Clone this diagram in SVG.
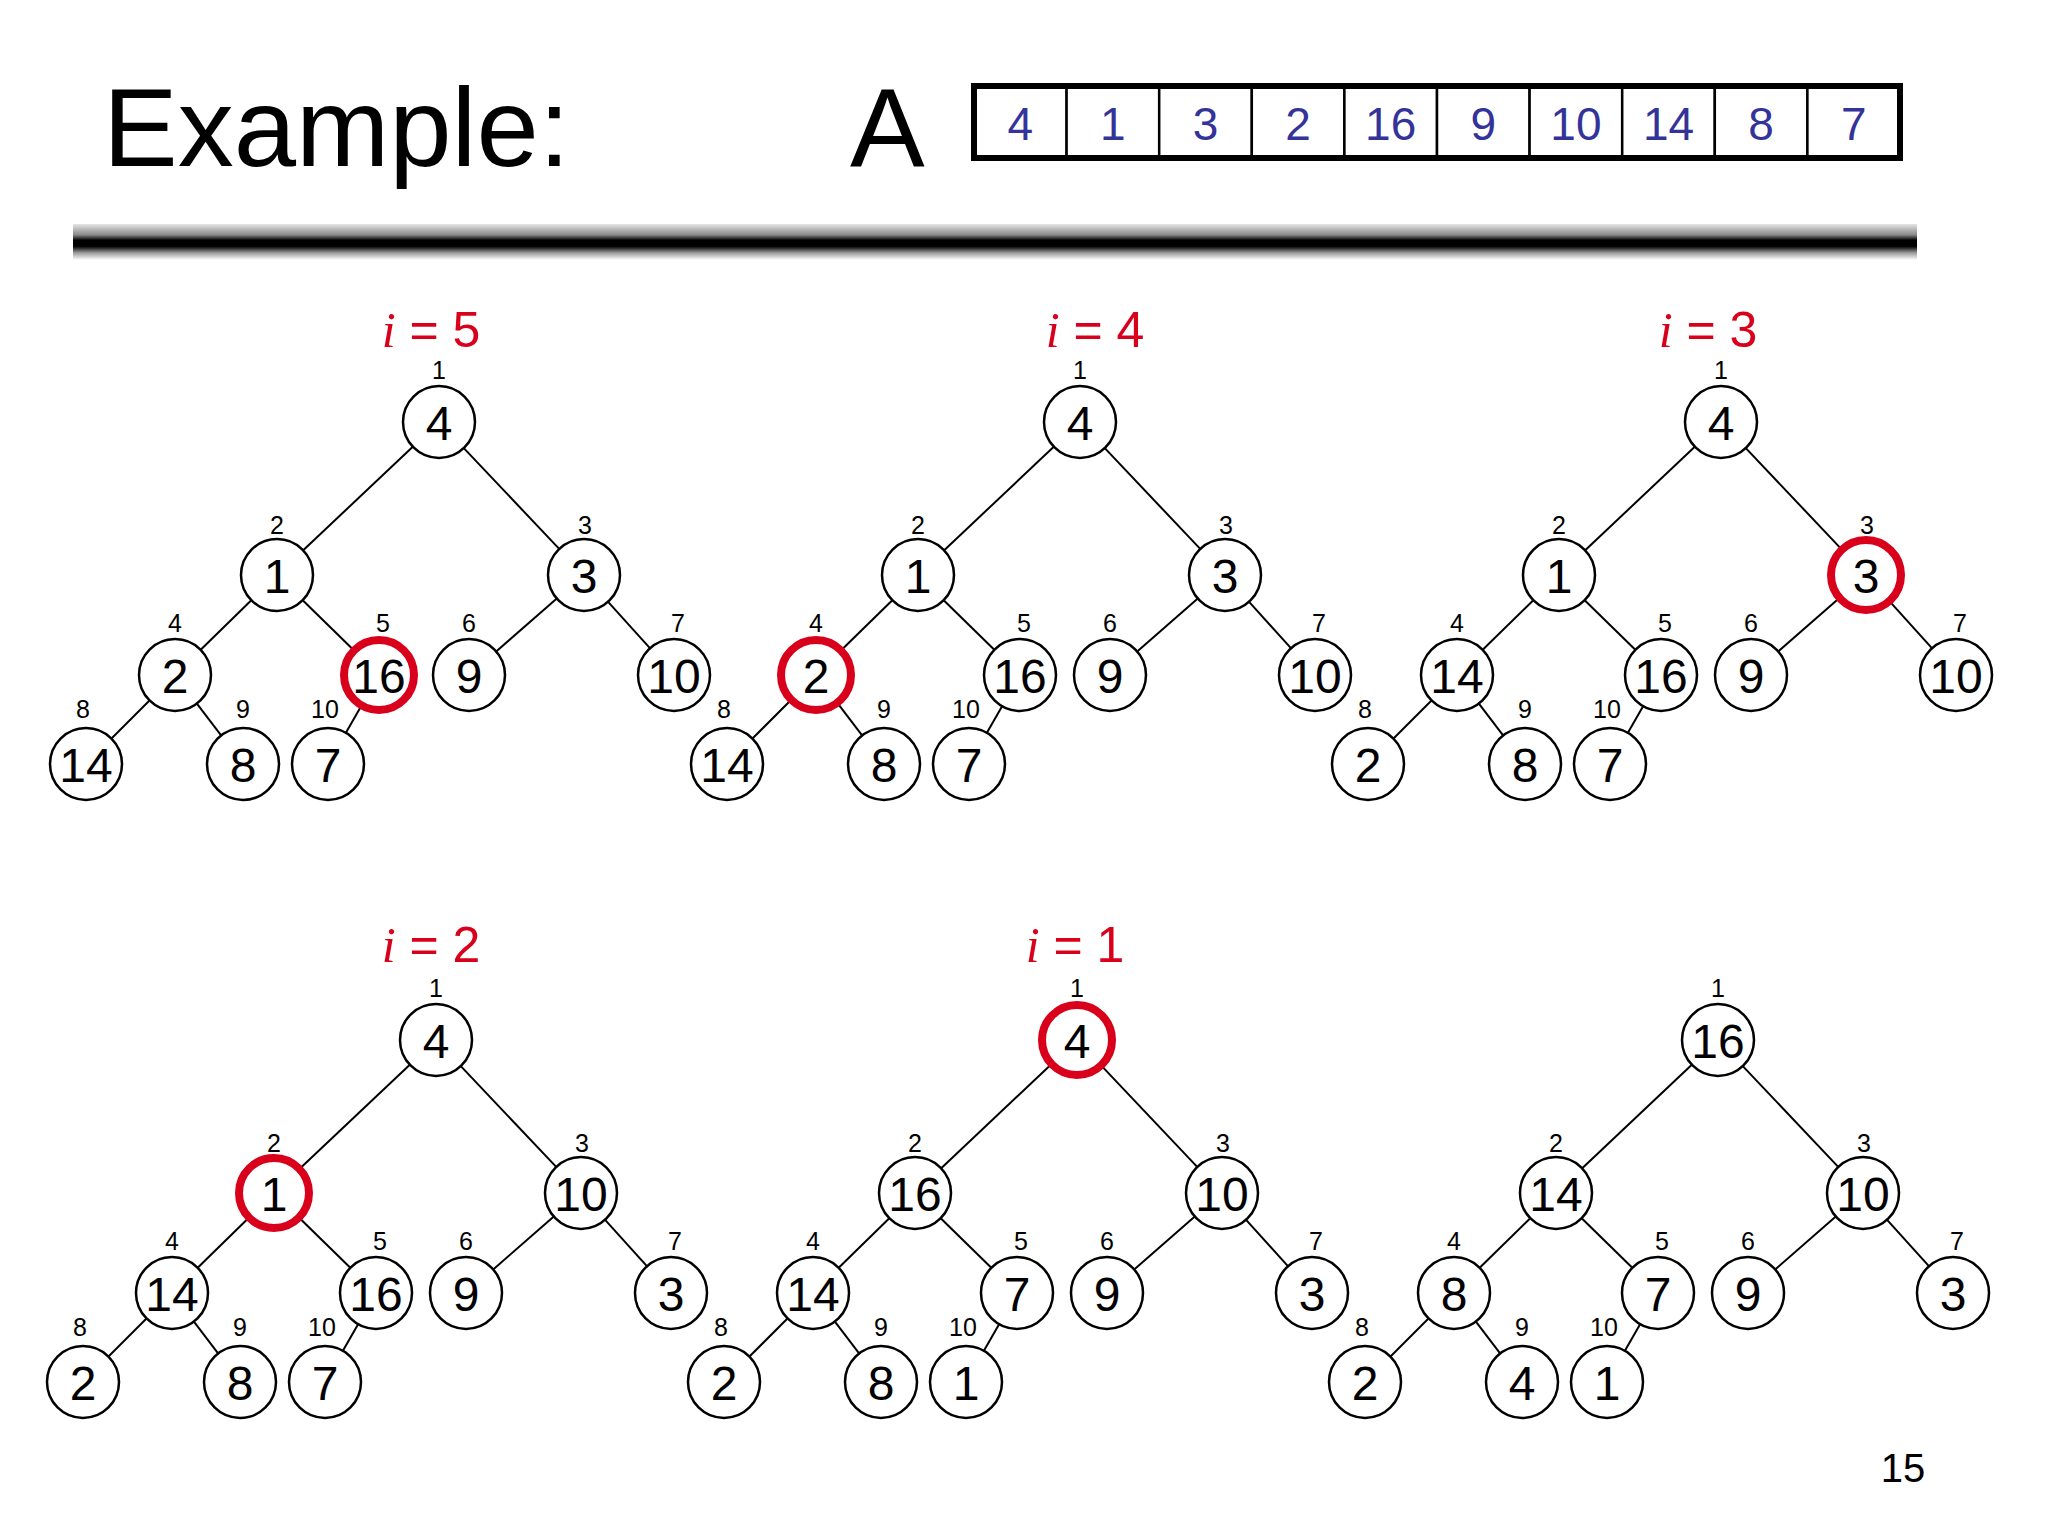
<svg xmlns="http://www.w3.org/2000/svg" width="2048" height="1536" viewBox="0 0 2048 1536">
<defs>
<linearGradient id="bar" x1="0" y1="0" x2="0" y2="1">
<stop offset="0" stop-color="#e6e6e6"/>
<stop offset="0.3" stop-color="#8a8a8a"/>
<stop offset="0.45" stop-color="#000"/>
<stop offset="0.62" stop-color="#000"/>
<stop offset="0.8" stop-color="#9a9a9a"/>
<stop offset="1" stop-color="#fff"/>
</linearGradient>
</defs>
<style>
text{font-family:"Liberation Sans",Arial,sans-serif}
.title{font-size:112px;fill:#000}
.cellnum{font-size:46px;fill:#333399;text-anchor:middle}
.cell{fill:#fff;stroke:#000;stroke-width:2.5}
.node circle{fill:#fff;stroke:#000;stroke-width:2.5}
.node.hl circle{stroke:#d9001b;stroke-width:8}
.val{font-size:48px;text-anchor:middle;fill:#000}
.idx{font-size:25px;text-anchor:middle;fill:#000}
.lbl{font-size:50px;fill:#d9001b;text-anchor:middle}
.it{font-family:"Liberation Serif","Times New Roman",serif;font-style:italic}
#connectors line{stroke:#000;stroke-width:2}
</style>
<rect width="2048" height="1536" fill="#fff"/>
<g id="header">
<text class="title" x="103" y="166">Example:</text>
<text class="title" x="850" y="166">A</text>
<g id="array">
<rect class="cell" x="974" y="86" width="92.6" height="72"/>
<rect class="cell" x="1066.6" y="86" width="92.6" height="72"/>
<rect class="cell" x="1159.2" y="86" width="92.6" height="72"/>
<rect class="cell" x="1251.8" y="86" width="92.6" height="72"/>
<rect class="cell" x="1344.4" y="86" width="92.6" height="72"/>
<rect class="cell" x="1437" y="86" width="92.6" height="72"/>
<rect class="cell" x="1529.6" y="86" width="92.6" height="72"/>
<rect class="cell" x="1622.2" y="86" width="92.6" height="72"/>
<rect class="cell" x="1714.8" y="86" width="92.6" height="72"/>
<rect class="cell" x="1807.4" y="86" width="92.6" height="72"/>
<rect x="974" y="86" width="926" height="72" fill="none" stroke="#000" stroke-width="6"/>
<text class="cellnum" x="1020.3" y="140">4</text>
<text class="cellnum" x="1112.9" y="140">1</text>
<text class="cellnum" x="1205.5" y="140">3</text>
<text class="cellnum" x="1298.1" y="140">2</text>
<text class="cellnum" x="1390.7" y="140">16</text>
<text class="cellnum" x="1483.3" y="140">9</text>
<text class="cellnum" x="1575.9" y="140">10</text>
<text class="cellnum" x="1668.5" y="140">14</text>
<text class="cellnum" x="1761.1" y="140">8</text>
<text class="cellnum" x="1853.7" y="140">7</text>
</g>
<rect x="73" y="224" width="1844" height="36" fill="url(#bar)"/>
</g>

<g id="labels">
<text class="lbl" x="431" y="347"><tspan class="it">i</tspan> = 5</text>
<text class="lbl" x="1095" y="347"><tspan class="it">i</tspan> = 4</text>
<text class="lbl" x="1708" y="347"><tspan class="it">i</tspan> = 3</text>
<text class="lbl" x="431" y="962"><tspan class="it">i</tspan> = 2</text>
<text class="lbl" x="1075" y="962"><tspan class="it">i</tspan> = 1</text>
</g>

<g id="connectors">
<g transform="translate(439,422)">
<line x1="-26.2" y1="24.7" x2="-135.8" y2="128.3"/><line x1="24.8" y1="26.1" x2="120.2" y2="126.9"/>
<line x1="-187.7" y1="178.2" x2="-238.3" y2="227.8"/><line x1="-136.3" y1="178.2" x2="-85.7" y2="227.8"/>
<line x1="117.8" y1="176.6" x2="57.2" y2="229.4"/><line x1="169.1" y1="179.8" x2="210.9" y2="226.2"/>
<line x1="-289.5" y1="278.5" x2="-327.5" y2="316.5"/><line x1="-242.1" y1="281.6" x2="-217.9" y2="313.4"/>
<line x1="-77.9" y1="284.2" x2="-93.1" y2="310.8"/>
</g>
<g transform="translate(1080,422)">
<line x1="-26.2" y1="24.7" x2="-135.8" y2="128.3"/><line x1="24.8" y1="26.1" x2="120.2" y2="126.9"/>
<line x1="-187.7" y1="178.2" x2="-238.3" y2="227.8"/><line x1="-136.3" y1="178.2" x2="-85.7" y2="227.8"/>
<line x1="117.8" y1="176.6" x2="57.2" y2="229.4"/><line x1="169.1" y1="179.8" x2="210.9" y2="226.2"/>
<line x1="-289.5" y1="278.5" x2="-327.5" y2="316.5"/><line x1="-242.1" y1="281.6" x2="-217.9" y2="313.4"/>
<line x1="-77.9" y1="284.2" x2="-93.1" y2="310.8"/>
</g>
<g transform="translate(1721,422)">
<line x1="-26.2" y1="24.7" x2="-135.8" y2="128.3"/><line x1="24.8" y1="26.1" x2="120.2" y2="126.9"/>
<line x1="-187.7" y1="178.2" x2="-238.3" y2="227.8"/><line x1="-136.3" y1="178.2" x2="-85.7" y2="227.8"/>
<line x1="117.8" y1="176.6" x2="57.2" y2="229.4"/><line x1="169.1" y1="179.8" x2="210.9" y2="226.2"/>
<line x1="-289.5" y1="278.5" x2="-327.5" y2="316.5"/><line x1="-242.1" y1="281.6" x2="-217.9" y2="313.4"/>
<line x1="-77.9" y1="284.2" x2="-93.1" y2="310.8"/>
</g>
<g transform="translate(436,1040)">
<line x1="-26.2" y1="24.7" x2="-135.8" y2="128.3"/><line x1="24.8" y1="26.1" x2="120.2" y2="126.9"/>
<line x1="-187.7" y1="178.2" x2="-238.3" y2="227.8"/><line x1="-136.3" y1="178.2" x2="-85.7" y2="227.8"/>
<line x1="117.8" y1="176.6" x2="57.2" y2="229.4"/><line x1="169.1" y1="179.8" x2="210.9" y2="226.2"/>
<line x1="-289.5" y1="278.5" x2="-327.5" y2="316.5"/><line x1="-242.1" y1="281.6" x2="-217.9" y2="313.4"/>
<line x1="-77.9" y1="284.2" x2="-93.1" y2="310.8"/>
</g>
<g transform="translate(1077,1040)">
<line x1="-26.2" y1="24.7" x2="-135.8" y2="128.3"/><line x1="24.8" y1="26.1" x2="120.2" y2="126.9"/>
<line x1="-187.7" y1="178.2" x2="-238.3" y2="227.8"/><line x1="-136.3" y1="178.2" x2="-85.7" y2="227.8"/>
<line x1="117.8" y1="176.6" x2="57.2" y2="229.4"/><line x1="169.1" y1="179.8" x2="210.9" y2="226.2"/>
<line x1="-289.5" y1="278.5" x2="-327.5" y2="316.5"/><line x1="-242.1" y1="281.6" x2="-217.9" y2="313.4"/>
<line x1="-77.9" y1="284.2" x2="-93.1" y2="310.8"/>
</g>
<g transform="translate(1718,1040)">
<line x1="-26.2" y1="24.7" x2="-135.8" y2="128.3"/><line x1="24.8" y1="26.1" x2="120.2" y2="126.9"/>
<line x1="-187.7" y1="178.2" x2="-238.3" y2="227.8"/><line x1="-136.3" y1="178.2" x2="-85.7" y2="227.8"/>
<line x1="117.8" y1="176.6" x2="57.2" y2="229.4"/><line x1="169.1" y1="179.8" x2="210.9" y2="226.2"/>
<line x1="-289.5" y1="278.5" x2="-327.5" y2="316.5"/><line x1="-242.1" y1="281.6" x2="-217.9" y2="313.4"/>
<line x1="-77.9" y1="284.2" x2="-93.1" y2="310.8"/>
</g>
</g>

<!-- Tree i=5 -->
<g id="t1" transform="translate(439,422)">
<g id="t1-n1" class="node"><circle cx="0" cy="0" r="36"/><text class="val" x="0" y="18">4</text><text class="idx" x="0" y="-43">1</text></g>
<g id="t1-n2" class="node"><circle cx="-162" cy="153" r="36"/><text class="val" x="-162" y="171">1</text><text class="idx" x="-162" y="112">2</text></g>
<g id="t1-n3" class="node"><circle cx="145" cy="153" r="36"/><text class="val" x="145" y="171">3</text><text class="idx" x="146" y="112">3</text></g>
<g id="t1-n4" class="node"><circle cx="-264" cy="253" r="36"/><text class="val" x="-264" y="271">2</text><text class="idx" x="-264" y="210">4</text></g>
<g id="t1-n5" class="node hl"><circle cx="-60" cy="253" r="35"/><text class="val" x="-60" y="271">16</text><text class="idx" x="-56" y="210">5</text></g>
<g id="t1-n6" class="node"><circle cx="30" cy="253" r="36"/><text class="val" x="30" y="271">9</text><text class="idx" x="30" y="210">6</text></g>
<g id="t1-n7" class="node"><circle cx="235" cy="253" r="36"/><text class="val" x="235" y="271">10</text><text class="idx" x="239" y="210">7</text></g>
<g id="t1-n8" class="node"><circle cx="-353" cy="342" r="36"/><text class="val" x="-353" y="360">14</text><text class="idx" x="-356" y="296">8</text></g>
<g id="t1-n9" class="node"><circle cx="-196" cy="342" r="36"/><text class="val" x="-196" y="360">8</text><text class="idx" x="-196" y="296">9</text></g>
<g id="t1-n10" class="node"><circle cx="-111" cy="342" r="36"/><text class="val" x="-111" y="360">7</text><text class="idx" x="-114" y="296">10</text></g>
</g>

<!-- Tree i=4 -->
<g id="t2" transform="translate(1080,422)">
<g id="t2-n1" class="node"><circle cx="0" cy="0" r="36"/><text class="val" x="0" y="18">4</text><text class="idx" x="0" y="-43">1</text></g>
<g id="t2-n2" class="node"><circle cx="-162" cy="153" r="36"/><text class="val" x="-162" y="171">1</text><text class="idx" x="-162" y="112">2</text></g>
<g id="t2-n3" class="node"><circle cx="145" cy="153" r="36"/><text class="val" x="145" y="171">3</text><text class="idx" x="146" y="112">3</text></g>
<g id="t2-n4" class="node hl"><circle cx="-264" cy="253" r="35"/><text class="val" x="-264" y="271">2</text><text class="idx" x="-264" y="210">4</text></g>
<g id="t2-n5" class="node"><circle cx="-60" cy="253" r="36"/><text class="val" x="-60" y="271">16</text><text class="idx" x="-56" y="210">5</text></g>
<g id="t2-n6" class="node"><circle cx="30" cy="253" r="36"/><text class="val" x="30" y="271">9</text><text class="idx" x="30" y="210">6</text></g>
<g id="t2-n7" class="node"><circle cx="235" cy="253" r="36"/><text class="val" x="235" y="271">10</text><text class="idx" x="239" y="210">7</text></g>
<g id="t2-n8" class="node"><circle cx="-353" cy="342" r="36"/><text class="val" x="-353" y="360">14</text><text class="idx" x="-356" y="296">8</text></g>
<g id="t2-n9" class="node"><circle cx="-196" cy="342" r="36"/><text class="val" x="-196" y="360">8</text><text class="idx" x="-196" y="296">9</text></g>
<g id="t2-n10" class="node"><circle cx="-111" cy="342" r="36"/><text class="val" x="-111" y="360">7</text><text class="idx" x="-114" y="296">10</text></g>
</g>

<!-- Tree i=3 -->
<g id="t3" transform="translate(1721,422)">
<g id="t3-n1" class="node"><circle cx="0" cy="0" r="36"/><text class="val" x="0" y="18">4</text><text class="idx" x="0" y="-43">1</text></g>
<g id="t3-n2" class="node"><circle cx="-162" cy="153" r="36"/><text class="val" x="-162" y="171">1</text><text class="idx" x="-162" y="112">2</text></g>
<g id="t3-n3" class="node hl"><circle cx="145" cy="153" r="35"/><text class="val" x="145" y="171">3</text><text class="idx" x="146" y="112">3</text></g>
<g id="t3-n4" class="node"><circle cx="-264" cy="253" r="36"/><text class="val" x="-264" y="271">14</text><text class="idx" x="-264" y="210">4</text></g>
<g id="t3-n5" class="node"><circle cx="-60" cy="253" r="36"/><text class="val" x="-60" y="271">16</text><text class="idx" x="-56" y="210">5</text></g>
<g id="t3-n6" class="node"><circle cx="30" cy="253" r="36"/><text class="val" x="30" y="271">9</text><text class="idx" x="30" y="210">6</text></g>
<g id="t3-n7" class="node"><circle cx="235" cy="253" r="36"/><text class="val" x="235" y="271">10</text><text class="idx" x="239" y="210">7</text></g>
<g id="t3-n8" class="node"><circle cx="-353" cy="342" r="36"/><text class="val" x="-353" y="360">2</text><text class="idx" x="-356" y="296">8</text></g>
<g id="t3-n9" class="node"><circle cx="-196" cy="342" r="36"/><text class="val" x="-196" y="360">8</text><text class="idx" x="-196" y="296">9</text></g>
<g id="t3-n10" class="node"><circle cx="-111" cy="342" r="36"/><text class="val" x="-111" y="360">7</text><text class="idx" x="-114" y="296">10</text></g>
</g>

<!-- Tree i=2 -->
<g id="t4" transform="translate(436,1040)">
<g id="t4-n1" class="node"><circle cx="0" cy="0" r="36"/><text class="val" x="0" y="18">4</text><text class="idx" x="0" y="-43">1</text></g>
<g id="t4-n2" class="node hl"><circle cx="-162" cy="153" r="35"/><text class="val" x="-162" y="171">1</text><text class="idx" x="-162" y="112">2</text></g>
<g id="t4-n3" class="node"><circle cx="145" cy="153" r="36"/><text class="val" x="145" y="171">10</text><text class="idx" x="146" y="112">3</text></g>
<g id="t4-n4" class="node"><circle cx="-264" cy="253" r="36"/><text class="val" x="-264" y="271">14</text><text class="idx" x="-264" y="210">4</text></g>
<g id="t4-n5" class="node"><circle cx="-60" cy="253" r="36"/><text class="val" x="-60" y="271">16</text><text class="idx" x="-56" y="210">5</text></g>
<g id="t4-n6" class="node"><circle cx="30" cy="253" r="36"/><text class="val" x="30" y="271">9</text><text class="idx" x="30" y="210">6</text></g>
<g id="t4-n7" class="node"><circle cx="235" cy="253" r="36"/><text class="val" x="235" y="271">3</text><text class="idx" x="239" y="210">7</text></g>
<g id="t4-n8" class="node"><circle cx="-353" cy="342" r="36"/><text class="val" x="-353" y="360">2</text><text class="idx" x="-356" y="296">8</text></g>
<g id="t4-n9" class="node"><circle cx="-196" cy="342" r="36"/><text class="val" x="-196" y="360">8</text><text class="idx" x="-196" y="296">9</text></g>
<g id="t4-n10" class="node"><circle cx="-111" cy="342" r="36"/><text class="val" x="-111" y="360">7</text><text class="idx" x="-114" y="296">10</text></g>
</g>

<!-- Tree i=1 -->
<g id="t5" transform="translate(1077,1040)">
<g id="t5-n1" class="node hl"><circle cx="0" cy="0" r="35"/><text class="val" x="0" y="18">4</text><text class="idx" x="0" y="-43">1</text></g>
<g id="t5-n2" class="node"><circle cx="-162" cy="153" r="36"/><text class="val" x="-162" y="171">16</text><text class="idx" x="-162" y="112">2</text></g>
<g id="t5-n3" class="node"><circle cx="145" cy="153" r="36"/><text class="val" x="145" y="171">10</text><text class="idx" x="146" y="112">3</text></g>
<g id="t5-n4" class="node"><circle cx="-264" cy="253" r="36"/><text class="val" x="-264" y="271">14</text><text class="idx" x="-264" y="210">4</text></g>
<g id="t5-n5" class="node"><circle cx="-60" cy="253" r="36"/><text class="val" x="-60" y="271">7</text><text class="idx" x="-56" y="210">5</text></g>
<g id="t5-n6" class="node"><circle cx="30" cy="253" r="36"/><text class="val" x="30" y="271">9</text><text class="idx" x="30" y="210">6</text></g>
<g id="t5-n7" class="node"><circle cx="235" cy="253" r="36"/><text class="val" x="235" y="271">3</text><text class="idx" x="239" y="210">7</text></g>
<g id="t5-n8" class="node"><circle cx="-353" cy="342" r="36"/><text class="val" x="-353" y="360">2</text><text class="idx" x="-356" y="296">8</text></g>
<g id="t5-n9" class="node"><circle cx="-196" cy="342" r="36"/><text class="val" x="-196" y="360">8</text><text class="idx" x="-196" y="296">9</text></g>
<g id="t5-n10" class="node"><circle cx="-111" cy="342" r="36"/><text class="val" x="-111" y="360">1</text><text class="idx" x="-114" y="296">10</text></g>
</g>

<!-- Final heap -->
<g id="t6" transform="translate(1718,1040)">
<g id="t6-n1" class="node"><circle cx="0" cy="0" r="36"/><text class="val" x="0" y="18">16</text><text class="idx" x="0" y="-43">1</text></g>
<g id="t6-n2" class="node"><circle cx="-162" cy="153" r="36"/><text class="val" x="-162" y="171">14</text><text class="idx" x="-162" y="112">2</text></g>
<g id="t6-n3" class="node"><circle cx="145" cy="153" r="36"/><text class="val" x="145" y="171">10</text><text class="idx" x="146" y="112">3</text></g>
<g id="t6-n4" class="node"><circle cx="-264" cy="253" r="36"/><text class="val" x="-264" y="271">8</text><text class="idx" x="-264" y="210">4</text></g>
<g id="t6-n5" class="node"><circle cx="-60" cy="253" r="36"/><text class="val" x="-60" y="271">7</text><text class="idx" x="-56" y="210">5</text></g>
<g id="t6-n6" class="node"><circle cx="30" cy="253" r="36"/><text class="val" x="30" y="271">9</text><text class="idx" x="30" y="210">6</text></g>
<g id="t6-n7" class="node"><circle cx="235" cy="253" r="36"/><text class="val" x="235" y="271">3</text><text class="idx" x="239" y="210">7</text></g>
<g id="t6-n8" class="node"><circle cx="-353" cy="342" r="36"/><text class="val" x="-353" y="360">2</text><text class="idx" x="-356" y="296">8</text></g>
<g id="t6-n9" class="node"><circle cx="-196" cy="342" r="36"/><text class="val" x="-196" y="360">4</text><text class="idx" x="-196" y="296">9</text></g>
<g id="t6-n10" class="node"><circle cx="-111" cy="342" r="36"/><text class="val" x="-111" y="360">1</text><text class="idx" x="-114" y="296">10</text></g>
</g>

<text x="1903" y="1482" font-size="40" text-anchor="middle" fill="#000">15</text>
</svg>
